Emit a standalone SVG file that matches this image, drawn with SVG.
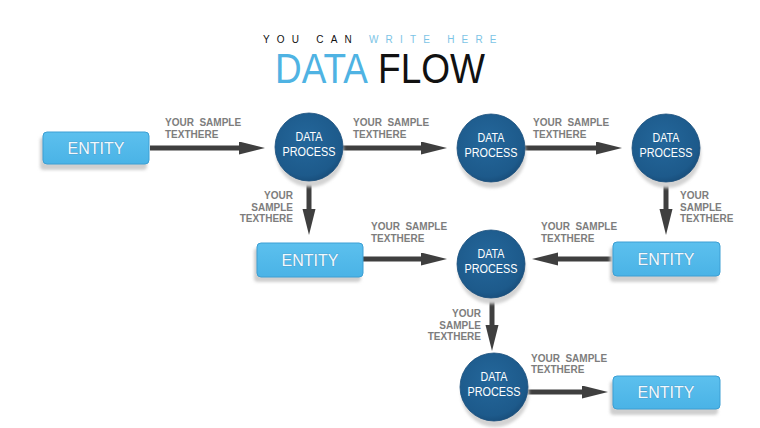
<svg xmlns="http://www.w3.org/2000/svg" width="760" height="428" viewBox="0 0 760 428">
<defs>
<style>
.lbl{font-family:"Liberation Sans",Arial,sans-serif;font-size:10px;font-weight:bold;fill:#7d7d7d;white-space:pre}
.ent{font-family:"Liberation Sans",Arial,sans-serif;font-size:16px;fill:#f2f9fd;stroke:#4a95c4;stroke-width:0.7;paint-order:stroke;text-anchor:middle}
.dp{font-family:"Liberation Sans",Arial,sans-serif;font-size:12.5px;fill:#ffffff;text-anchor:middle}
.box{fill:url(#entGrad);stroke:#3c9fd4;stroke-width:1}
.boxsh{fill:#cfcfcf;filter:url(#blur)}
.circ{fill:url(#circGrad);stroke:#1a4f7c;stroke-width:0.8}
.circsh{fill:#d3d3d3;filter:url(#blur)}
.arr{stroke:#3f3f3f;stroke-width:5;fill:none;marker-end:url(#head)}
</style>
<linearGradient id="entGrad" x1="0" y1="0" x2="0" y2="1">
<stop offset="0" stop-color="#5cc0ee"/>
<stop offset="1" stop-color="#4ab3e6"/>
</linearGradient>
<radialGradient id="circGrad" cx="0.45" cy="0.4" r="0.65">
<stop offset="0" stop-color="#24679b"/>
<stop offset="0.8" stop-color="#1d5a8b"/>
<stop offset="1" stop-color="#174a76"/>
</radialGradient>
<filter id="blur" x="-20%" y="-20%" width="140%" height="140%">
<feGaussianBlur stdDeviation="1.5"/>
</filter>
<marker id="head" markerUnits="userSpaceOnUse" markerWidth="26" markerHeight="14" refX="6" refY="6.5" orient="auto">
<path d="M0,0 L26,6.5 L0,13 Z" fill="#3f3f3f"/>
</marker>
</defs>
<rect width="760" height="428" fill="#ffffff"/>

<g id="title">
<text x="263" y="43" font-family="'Liberation Sans',Arial,sans-serif" font-size="10" letter-spacing="7.2"><tspan fill="#111111">YOU CAN </tspan><tspan fill="#7cc4e6">WRITE HERE</tspan></text>
<text x="275" y="83" font-family="'Liberation Sans',Arial,sans-serif" font-size="42" fill="#4fb3e3" textLength="93" lengthAdjust="spacingAndGlyphs">DATA</text>
<text x="378" y="83" font-family="'Liberation Sans',Arial,sans-serif" font-size="42" fill="#111111" textLength="107" lengthAdjust="spacingAndGlyphs">FLOW</text>
</g>

<g id="connectors">
<path class="arr" d="M150,148 H245"/>
<path class="arr" d="M343,148 H427"/>
<path class="arr" d="M525,148 H602"/>
<path class="arr" d="M309,181 V215"/>
<path class="arr" d="M666,182 V215"/>
<path class="arr" d="M363,259 H427"/>
<path class="arr" d="M612,259 H552"/>
<path class="arr" d="M492,298 V331"/>
<path class="arr" d="M528,392 H588"/>
</g>

<g id="labels">
<text class="lbl" xml:space="preserve" x="165" y="126">YOUR  SAMPLE</text><text class="lbl" x="165" y="138">TEXTHERE</text>
<text class="lbl" xml:space="preserve" x="353" y="126">YOUR  SAMPLE</text><text class="lbl" x="353" y="138">TEXTHERE</text>
<text class="lbl" xml:space="preserve" x="533" y="126">YOUR  SAMPLE</text><text class="lbl" x="533" y="138">TEXTHERE</text>
<text class="lbl" x="293" y="199" text-anchor="end">YOUR</text><text class="lbl" x="293" y="211" text-anchor="end">SAMPLE</text><text class="lbl" x="293" y="222" text-anchor="end">TEXTHERE</text>
<text class="lbl" x="680" y="199">YOUR</text><text class="lbl" x="680" y="211">SAMPLE</text><text class="lbl" x="680" y="222">TEXTHERE</text>
<text class="lbl" xml:space="preserve" x="371" y="230">YOUR  SAMPLE</text><text class="lbl" x="371" y="242">TEXTHERE</text>
<text class="lbl" xml:space="preserve" x="541" y="230">YOUR  SAMPLE</text><text class="lbl" x="541" y="242">TEXTHERE</text>
<text class="lbl" x="481" y="317" text-anchor="end">YOUR</text><text class="lbl" x="481" y="329" text-anchor="end">SAMPLE</text><text class="lbl" x="481" y="340" text-anchor="end">TEXTHERE</text>
<text class="lbl" xml:space="preserve" x="531" y="362">YOUR  SAMPLE</text><text class="lbl" x="531" y="373">TEXTHERE</text>
</g>

<g id="entity1">
<rect class="boxsh" x="40" y="137" width="107" height="33" rx="4"/>
<rect class="box" x="43" y="132" width="106" height="32" rx="4"/>
<text class="ent" x="96" y="154">ENTITY</text>
</g>
<g id="entity2">
<rect class="boxsh" x="254" y="248" width="107" height="34" rx="4"/>
<rect class="box" x="257" y="243" width="106" height="34" rx="4"/>
<text class="ent" x="310" y="266">ENTITY</text>
</g>
<g id="entity3">
<rect class="boxsh" x="610" y="247" width="108" height="35" rx="4"/>
<rect class="box" x="613" y="242" width="107" height="34" rx="4"/>
<text class="ent" x="666" y="265">ENTITY</text>
</g>
<g id="entity4">
<rect class="boxsh" x="610" y="381" width="108" height="34" rx="4"/>
<rect class="box" x="613" y="376" width="107" height="33" rx="4"/>
<text class="ent" x="666" y="398">ENTITY</text>
</g>

<g id="process1">
<circle class="circsh" cx="310" cy="153" r="34"/>
<circle class="circ" cx="309" cy="147" r="34"/>
<text class="dp" x="309" y="141" textLength="27" lengthAdjust="spacingAndGlyphs">DATA</text>
<text class="dp" x="309" y="156" textLength="53" lengthAdjust="spacingAndGlyphs">PROCESS</text>
</g>
<g id="process2">
<circle class="circsh" cx="492" cy="154" r="34"/>
<circle class="circ" cx="491" cy="148" r="34"/>
<text class="dp" x="491" y="142" textLength="27" lengthAdjust="spacingAndGlyphs">DATA</text>
<text class="dp" x="491" y="157" textLength="53" lengthAdjust="spacingAndGlyphs">PROCESS</text>
</g>
<g id="process3">
<circle class="circsh" cx="667" cy="154" r="34"/>
<circle class="circ" cx="666" cy="148" r="34"/>
<text class="dp" x="666" y="142" textLength="27" lengthAdjust="spacingAndGlyphs">DATA</text>
<text class="dp" x="666" y="157" textLength="53" lengthAdjust="spacingAndGlyphs">PROCESS</text>
</g>
<g id="process4">
<circle class="circsh" cx="492" cy="270" r="34"/>
<circle class="circ" cx="491" cy="264" r="34"/>
<text class="dp" x="491" y="258" textLength="27" lengthAdjust="spacingAndGlyphs">DATA</text>
<text class="dp" x="491" y="273" textLength="53" lengthAdjust="spacingAndGlyphs">PROCESS</text>
</g>
<g id="process5">
<circle class="circsh" cx="495" cy="393" r="34"/>
<circle class="circ" cx="494" cy="387" r="34"/>
<text class="dp" x="494" y="381" textLength="27" lengthAdjust="spacingAndGlyphs">DATA</text>
<text class="dp" x="494" y="396" textLength="53" lengthAdjust="spacingAndGlyphs">PROCESS</text>
</g>
</svg>
